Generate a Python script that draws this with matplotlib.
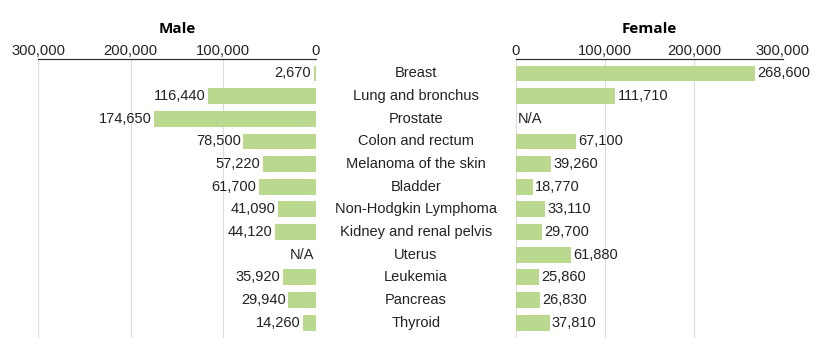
import numpy as np
import matplotlib.pyplot as plt

categories = ["Breast", "Lung and bronchus", "Prostate", "Colon and rectum",
              "Melanoma of the skin", "Bladder", "Non-Hodgkin Lymphoma",
              "Kidney and renal pelvis", "Uterus", "Leukemia", "Pancreas", "Thyroid"]
male = [2670, 116440, 174650, 78500, 57220, 61700, 41090, 44120, None, 35920, 29940, 14260]
female = [268600, 111710, None, 67100, 39260, 18770, 33110, 29700, 61880, 25860, 26830, 37810]
ticks = [0, 100000, 200000, 300000]

bar_color = "#bad98f"
grid_color = "#dcdcdc"
txt_color = "#222222"
plt.rcParams["font.family"] = ["Liberation Sans", "DejaVu Sans"]

fig = plt.figure(figsize=(8.25, 3.44), dpi=100)
axL = fig.add_axes([38 / 825, 6 / 344, 278 / 825, 279 / 344])
axR = fig.add_axes([516 / 825, 6 / 344, 267 / 825, 279 / 344])

y = np.arange(len(categories))


def setup(ax, side):
    ax.set_ylim(11.68, -0.64)
    ax.set_xlim(0, 300000)
    if side == "left":
        ax.invert_xaxis()
    ax.xaxis.tick_top()
    ax.set_xticks(ticks)
    ax.set_xticklabels([f"{t:,}" for t in ticks], fontsize=10.6, color=txt_color)
    ax.tick_params(axis="x", length=0, pad=1)
    ax.set_yticks([])
    for s in ["left", "right", "bottom"]:
        ax.spines[s].set_visible(False)
    ax.spines["top"].set_color("#333333")
    ax.spines["top"].set_linewidth(0.9)
    ax.grid(axis="x", color=grid_color, linewidth=0.8)
    ax.set_axisbelow(True)


setup(axL, "left")
setup(axR, "right")

mv = [v if v is not None else 0 for v in male]
fv = [v if v is not None else 0 for v in female]
axL.barh(y, mv, height=0.7, color=bar_color, zorder=2)
axR.barh(y, fv, height=0.7, color=bar_color, zorder=2)

for i, v in enumerate(male):
    if v is None:
        axL.text(2000, i, "N/A", ha="right", va="center", fontsize=10.5, color=txt_color)
    else:
        axL.text(v + 2500, i, f"{v:,}", ha="right", va="center", fontsize=10.5, color=txt_color)
for i, v in enumerate(female):
    if v is None:
        axR.text(2000, i, "N/A", ha="left", va="center", fontsize=10.5, color=txt_color)
    else:
        axR.text(v + 2500, i, f"{v:,}", ha="left", va="center", fontsize=10.5, color=txt_color)

# category names in the middle
for i, c in enumerate(categories):
    yy = axL.transData.transform((0, i))[1]
    fy = fig.transFigure.inverted().transform((0, yy))[1]
    fig.text(416 / 825, fy, c, ha="center", va="center", fontsize=10.5, color=txt_color)

fig.text(177 / 825, 1 - 29 / 344, "Male", ha="center", va="center", fontsize=11,
         fontweight="bold", family=["Open Sans", "DejaVu Sans"])
fig.text(649 / 825, 1 - 29 / 344, "Female", ha="center", va="center", fontsize=11,
         fontweight="bold", family=["Open Sans", "DejaVu Sans"])

fig.savefig("out.png", dpi=100)
